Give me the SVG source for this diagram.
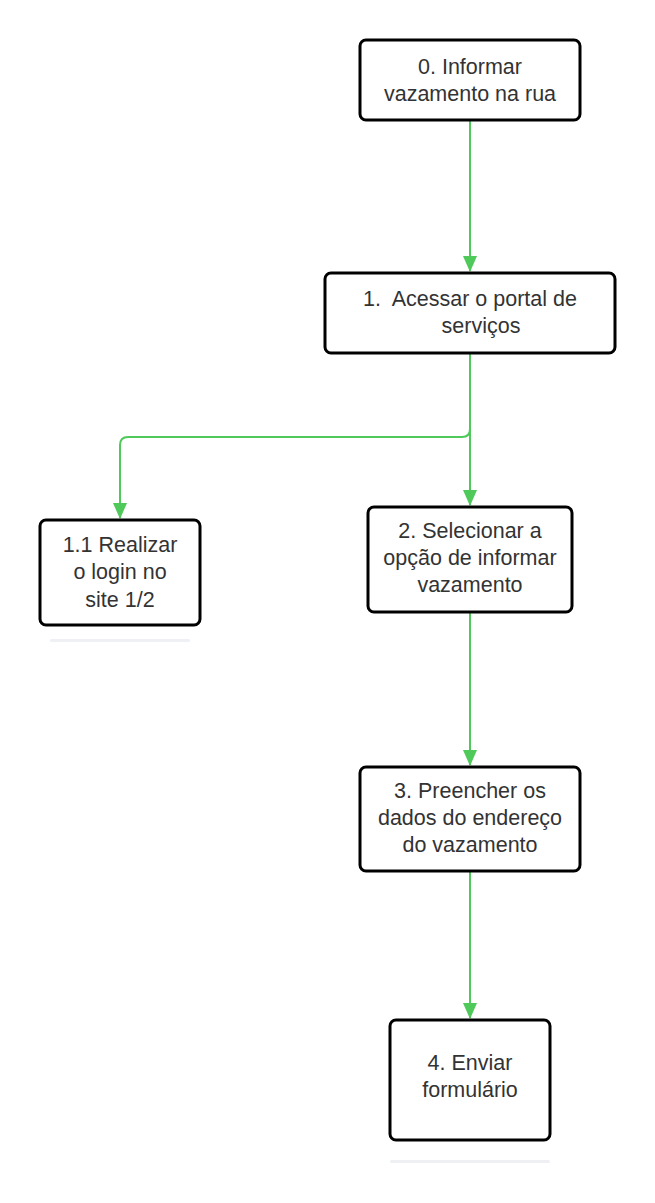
<svg xmlns="http://www.w3.org/2000/svg" width="655" height="1203" viewBox="0 0 655 1203">
<defs>
<style>
.box{fill:#fff;stroke:#000;stroke-width:3}
.shadow{fill:#eef0f3}
.t{font-family:"Liberation Sans",Arial,sans-serif;font-size:21.5px;fill:#333;text-anchor:middle;white-space:pre}
.c{fill:none;stroke:#4fc95a;stroke-width:2}
</style>
<marker id="ah" viewBox="0 0 16 14" refX="15" refY="7" markerWidth="16" markerHeight="14" markerUnits="userSpaceOnUse" orient="auto">
<path d="M0,0 L16,7 L0,14 Z" fill="#4fc95a"/>
</marker>
</defs>
<rect width="655" height="1203" fill="#fff"/>
<g id="connectors">
<path class="c" d="M470,121 V271" marker-end="url(#ah)"/>
<path class="c" d="M470,354 V505" marker-end="url(#ah)"/>
<path class="c" d="M470,429 Q470,437 462,437 H128 Q120,437 120,445 V518" marker-end="url(#ah)"/>
<path class="c" d="M470,613 V765" marker-end="url(#ah)"/>
<path class="c" d="M470,872 V1018" marker-end="url(#ah)"/>
</g>
<g id="node0">
<rect class="box" x="360" y="40" width="220" height="80" rx="6"/>
<text class="t" x="470" y="74">0. Informar</text>
<text class="t" x="470" y="101">vazamento na rua</text>
</g>
<g id="node1">
<rect class="box" x="325" y="273" width="290" height="80" rx="6"/>
<text class="t" x="470" y="306" xml:space="preserve">1.  Acessar o portal de</text>
<text class="t" x="481" y="333">serviços</text>
</g>
<g id="node1_1">
<rect class="box" x="40" y="520" width="160" height="105" rx="6"/>
<text class="t" x="120" y="552">1.1 Realizar</text>
<text class="t" x="120" y="579">o login no</text>
<text class="t" x="120" y="607">site 1/2</text>
<rect class="shadow" x="50" y="639" width="140" height="3" rx="1.5"/>
</g>
<g id="node2">
<rect class="box" x="368" y="507" width="204" height="105" rx="6"/>
<text class="t" x="470" y="538">2. Selecionar a</text>
<text class="t" x="470" y="565">opção de informar</text>
<text class="t" x="470" y="592">vazamento</text>
</g>
<g id="node3">
<rect class="box" x="360" y="767" width="220" height="104" rx="6"/>
<text class="t" x="470" y="798">3. Preencher os</text>
<text class="t" x="470" y="825">dados do endereço</text>
<text class="t" x="470" y="852">do vazamento</text>
</g>
<g id="node4">
<rect class="box" x="390" y="1020" width="160" height="120" rx="6"/>
<text class="t" x="470" y="1070">4. Enviar</text>
<text class="t" x="470" y="1097">formulário</text>
<rect class="shadow" x="390" y="1160" width="160" height="3" rx="1.5"/>
</g>
</svg>
